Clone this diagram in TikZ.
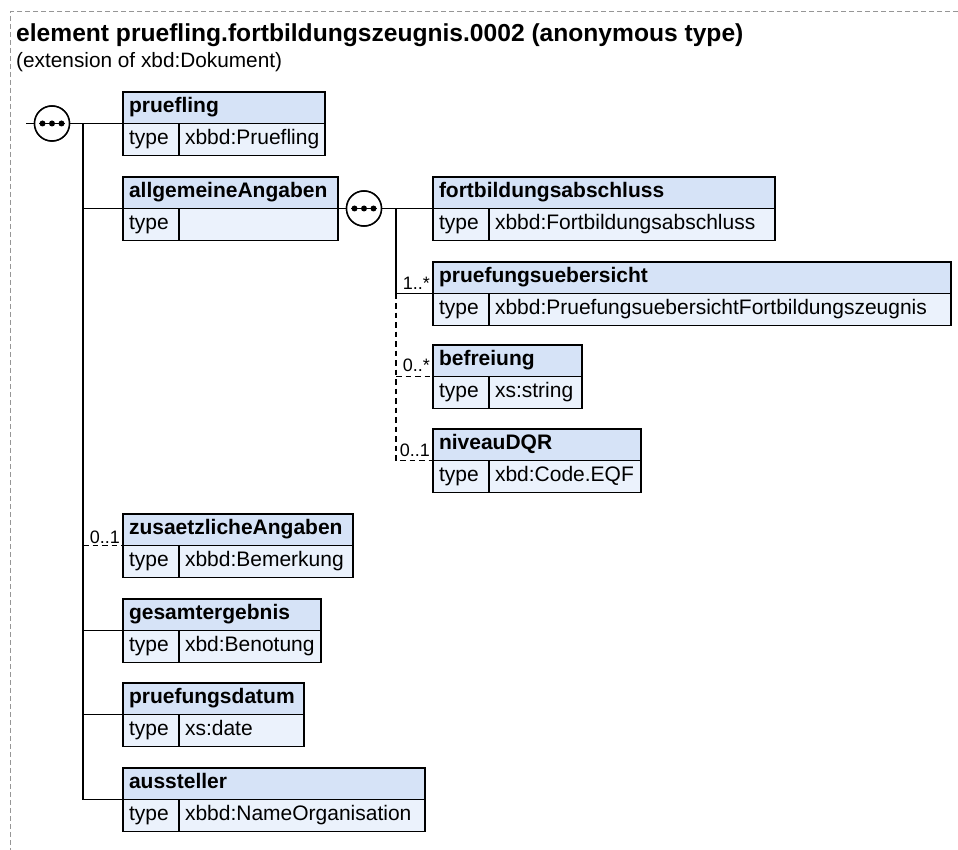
\documentclass[tikz,border=0pt]{standalone}
\usepackage{fontspec}
\setmainfont{Liberation Sans}
\definecolor{hdrfill}{RGB}{214,227,247}
\definecolor{rowfill}{RGB}{235,242,252}
\definecolor{framegray}{RGB}{150,150,150}
\tikzset{
  cell/.style={draw=black, line width=1.6pt, outer sep=0pt, inner xsep=6pt, inner ysep=0pt,
    anchor=north west, align=left, text height=14pt, text depth=4pt,
    font=\fontsize{21}{24}\selectfont},
  hdr/.style={cell, fill=hdrfill, minimum height=31.5pt, font=\fontsize{21}{24}\selectfont\bfseries},
  rowcell/.style={cell, fill=rowfill, minimum height=32pt},
  conn/.style={line width=1.8pt, draw=black},
  optconn/.style={line width=1.4pt, draw=black, dash pattern=on 5.5pt off 4pt},
  mult/.style={inner sep=0pt, anchor=base east, font=\fontsize{18}{20}\selectfont},
  seqsym/.style={circle, draw=black, fill=white, line width=1.5pt, minimum size=35pt, inner sep=0pt, outer sep=0pt},
}
% \elem{id}{x}{top}{width}{name}{type}
\newcommand{\elem}[6]{%
  \pgfmathsetmacro{\elemtw}{#4-12}%
  \pgfmathsetmacro{\elemvw}{#4-56}%
  \pgfmathsetmacro{\elemvtw}{#4-56-12}%
  \pgfmathsetmacro{\elemrow}{#3+31.5}%
  \pgfmathsetmacro{\elemvx}{#2+56}%
  \node[hdr, minimum width=#4pt, text width=\elemtw pt] (#1) at (#2,#3) {#5};
  \node[rowcell, minimum width=56pt, text width=44pt] (#1-t) at (#2,\elemrow) {type};
  \node[rowcell, minimum width=\elemvw pt, text width=\elemvtw pt] (#1-v) at (\elemvx,\elemrow) {#6};
}
\newcommand{\seqdots}[1]{%
  \draw[line width=1.5pt] ([xshift=-13pt]#1.center) -- ([xshift=13pt]#1.center);
  \fill ([xshift=-9.5pt]#1.center) circle (3pt);
  \fill (#1.center) circle (3pt);
  \fill ([xshift=9.5pt]#1.center) circle (3pt);
}
\begin{document}
\begin{tikzpicture}[x=1pt,y=-1pt]
\useasboundingbox (0,0) rectangle (958,850);
% frame
\coordinate (fr-tr) at (958,12);
\coordinate (fr-tl) at (10,12);
\coordinate (fr-bl) at (10,850);
\draw[framegray, line width=1pt, dash pattern=on 5pt off 3pt] (fr-tr) -- (fr-tl) -- (fr-bl);
% titles
\node[inner sep=0pt, anchor=base west, font=\fontsize{24.6}{28}\selectfont\bfseries] (title) at (16,42)
  {element pruefling.fortbildungszeugnis.0002 (anonymous type)};
\node[inner sep=0pt, anchor=base west, font=\fontsize{20.8}{24}\selectfont] (subtitle) at (16,68)
  {(extension of xbd:Dokument)};
% elements, left column
\elem{pruefling}{123}{92}{202}{pruefling}{xbbd:Pruefling}
\elem{allg}{123}{177}{215}{allgemeineAngaben}{}
\elem{zus}{123}{514}{230}{zusaetzlicheAngaben}{xbbd:Bemerkung}
\elem{gesamt}{123}{599}{198}{gesamtergebnis}{xbd:Benotung}
\elem{pdatum}{123}{683}{181}{pruefungsdatum}{xs:date}
\elem{aus}{123}{768}{302}{aussteller}{xbbd:NameOrganisation}
% elements, right column
\elem{fortb}{433}{177}{342}{fortbildungsabschluss}{xbbd:Fortbildungsabschluss}
\elem{puebers}{433}{262}{518}{pruefungsuebersicht}{xbbd:PruefungsuebersichtFortbildungszeugnis}
\elem{befr}{433}{345}{149}{befreiung}{xs:string}
\elem{niveau}{433}{429}{208}{niveauDQR}{xbd:Code.EQF}
% sequence symbols
\node[seqsym] (seq1) at (52,123.5) {};
\node[seqsym] (seq2) at (364,208.5) {};
% connectors main sequence
\coordinate (in1) at (26,123.5);
\coordinate (t1) at (83,123.5);
\draw[conn] (in1) -- (seq1.west);
\draw[conn] (seq1.east) -- (pruefling.south west);
\draw[conn] (t1) |- (aus.south west);
\draw[conn] (t1 |- allg.south west) -- (allg.south west);
\draw[optconn] (t1 |- zus.south west) -- (zus.south west);
\draw[conn] (t1 |- gesamt.south west) -- (gesamt.south west);
\draw[conn] (t1 |- pdatum.south west) -- (pdatum.south west);
% connectors inner sequence
\coordinate (t2) at (396,208.5);
\draw[conn] (allg.south east) -- (seq2.west);
\draw[conn] (seq2.east) -- (fortb.south west);
\draw[conn] (t2) |- (puebers.south west);
\draw[optconn] (t2 |- puebers.south west) |- (niveau.south west);
\draw[optconn] (t2 |- befr.south west) -- (befr.south west);
% symbols on top
\node[seqsym] at (seq1.center) {};
\node[seqsym] at (seq2.center) {};
\seqdots{seq1}
\seqdots{seq2}
% multiplicities
\node[mult] (m-zus) at ([xshift=-3pt,yshift=2.5pt]zus.south west) {0..1};
\node[mult] (m-pue) at ([xshift=-3pt,yshift=3.5pt]puebers.south west) {1..*};
\node[mult] (m-befr) at ([xshift=-3pt,yshift=5pt]befr.south west) {0..*};
\node[mult] (m-niv) at ([xshift=-3pt,yshift=4pt]niveau.south west) {0..1};
\end{tikzpicture}
\end{document}
